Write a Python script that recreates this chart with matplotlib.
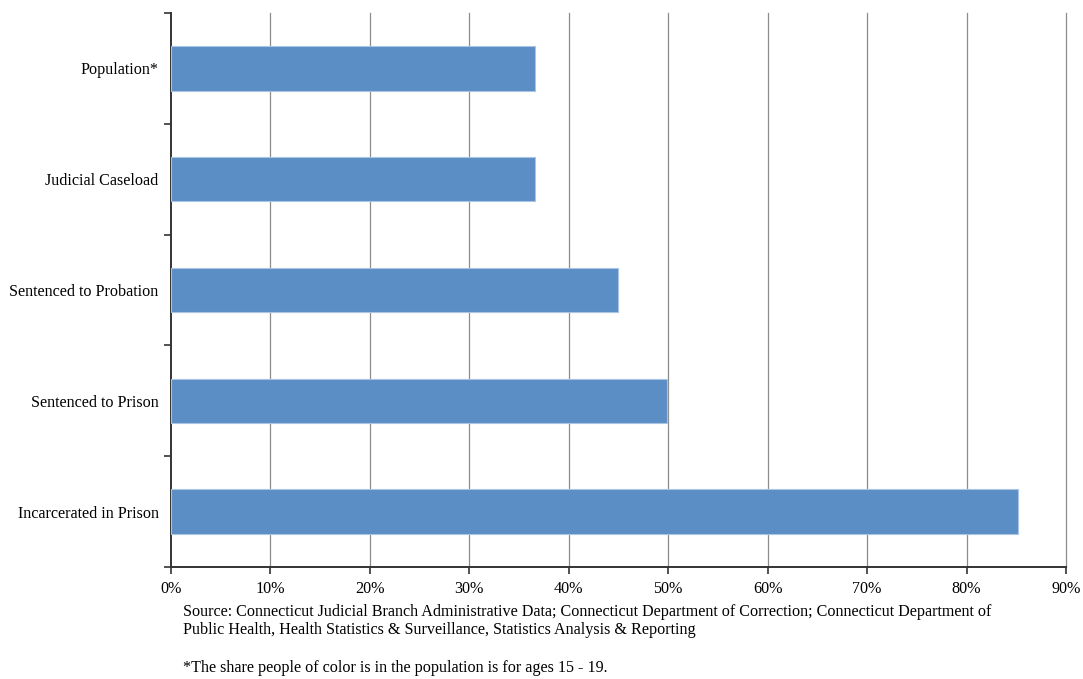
import numpy as np
import matplotlib
matplotlib.use('Agg')
import matplotlib.pyplot as plt
from matplotlib.ticker import FuncFormatter, FixedLocator

plt.rcParams['font.family'] = ['Liberation Serif', 'DejaVu Serif']

categories = ['Population*', 'Judicial Caseload', 'Sentenced to Probation',
              'Sentenced to Prison', 'Incarcerated in Prison']
shares = [0.366, 0.366, 0.449, 0.499, 0.852]
x_ticks = [0.0, 0.1, 0.2, 0.3, 0.4, 0.5, 0.6, 0.7, 0.8, 0.9]

FS = 11.6

fig = plt.figure(figsize=(10.83, 6.79), dpi=100)
ax = fig.add_axes([0.1579, 0.1649, 0.8264, 0.8160])

ypos = np.arange(len(categories))
ax.barh(ypos, shares, height=0.4, color='#5B8EC4',
        edgecolor='#A9C4E4', lw=0.8, zorder=3)

ax.set_xlim(0, 0.9)
ax.set_ylim(len(categories) - 0.5, -0.5)
ax.set_xticks(x_ticks)
ax.xaxis.set_major_formatter(FuncFormatter(lambda v, p: f'{v*100:.0f}%'))
# vertical gridlines (incl. the one at 90%, which sits on the axes edge)
for xt in x_ticks[1:]:
    ax.axvline(xt, color='#8C8C8C', lw=0.9, zorder=0, clip_on=False)

ax.set_yticks(ypos)
ax.set_yticklabels(categories, fontsize=FS)
ax.yaxis.set_minor_locator(FixedLocator(np.arange(-0.5, len(categories), 1.0)))
ax.tick_params(axis='y', which='major', length=0, pad=9)
ax.tick_params(axis='y', which='minor', length=5, width=1.2, color='#333333')
ax.tick_params(axis='x', length=5, width=1.2, color='#333333', labelsize=FS, pad=5)

for sp in ('top', 'right'):
    ax.spines[sp].set_visible(False)
for sp in ('left', 'bottom'):
    ax.spines[sp].set_color('#333333')
    ax.spines[sp].set_linewidth(1.4)

fig.text(183 / 1083, 1 - 621 / 679,
         'Source: Connecticut Judicial Branch Administrative Data; Connecticut Department of Correction; Connecticut Department of\n'
         'Public Health, Health Statistics & Surveillance, Statistics Analysis & Reporting',
         fontsize=FS, va='center', ha='left', linespacing=1.2)
fig.text(183 / 1083, 1 - 668 / 679,
         '*The share people of color is in the population is for ages 15 - 19.',
         fontsize=FS, va='center', ha='left')

fig.savefig('out.png', dpi=100, facecolor='white')
